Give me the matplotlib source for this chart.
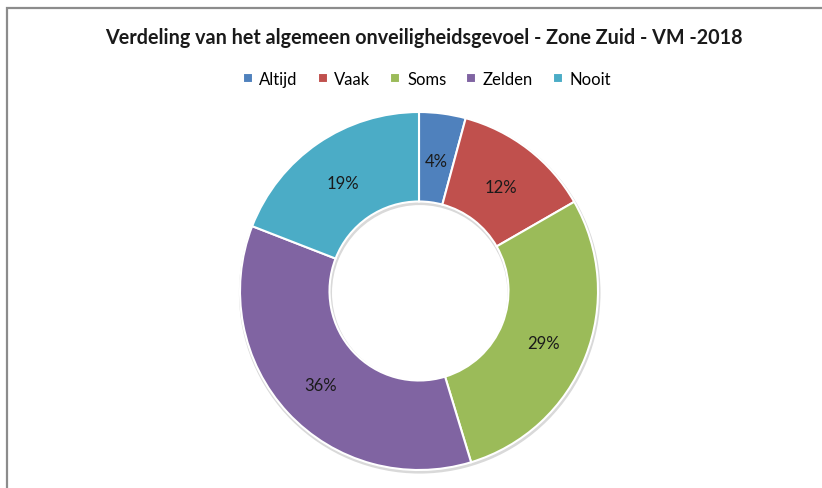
import matplotlib
matplotlib.use("Agg")
import matplotlib.pyplot as plt
import numpy as np
from matplotlib.patches import Rectangle

# data
categories = ["Altijd", "Vaak", "Soms", "Zelden", "Nooit"]
shares = [4.2, 12.5, 28.6, 35.6, 19.1]
labels = ["4%", "12%", "29%", "36%", "19%"]
colors = ["#4F81BD", "#C0504D", "#9BBB59", "#8064A2", "#4BACC6"]
title = "Verdeling van het algemeen onveiligheidsgevoel - Zone Zuid - VM -2018"

plt.rcParams['font.family'] = ['Lato', 'DejaVu Sans']

W, H = 822, 489
fig = plt.figure(figsize=(W / 100, H / 100), dpi=100)

# chart frame (runs off the right and bottom edge)
fig.patches.append(Rectangle((7 / W, -0.05), 1.0, 1 - 9 / H + 0.05,
                             transform=fig.transFigure, fill=False,
                             edgecolor="#8c8c8c", linewidth=1.6))

cx, cy, r = 419, 292, 179
ax = fig.add_axes([(cx - r) / W, (H - cy - r) / H, 2 * r / W, 2 * r / H])

# soft shadow
ax.pie([1], radius=1.01, colors=["#d9d9d9"], center=(0.004, -0.01),
       wedgeprops=dict(width=0.52, linewidth=0))
wedges, texts = ax.pie(shares, colors=colors, startangle=90, counterclock=False,
                       radius=1.0,
                       wedgeprops=dict(width=0.5, edgecolor="white", linewidth=1.5))
for w, lab in zip(wedges, labels):
    ang = np.deg2rad((w.theta1 + w.theta2) / 2)
    ax.text(0.75 * np.cos(ang), 0.75 * np.sin(ang) - 0.015, lab, ha="center",
            va="center", fontsize=12, color="#1a1a1a")
ax.set_aspect("equal")
ax.set_xlim(-1.0, 1.0)
ax.set_ylim(-1.0, 1.0)
ax.axis("off")

fig.text(424 / W, 1 - 38 / H, title, ha="center", va="center",
         fontsize=14.2, fontweight="bold", color="#1a1a1a")

fig.legend(wedges, categories, loc="center", bbox_to_anchor=(427 / W, 1 - 80 / H),
           ncol=5, frameon=False, fontsize=12, handlelength=0.6, handleheight=0.6,
           handletextpad=0.4, columnspacing=1.2)

fig.savefig("out.png", dpi=100)
